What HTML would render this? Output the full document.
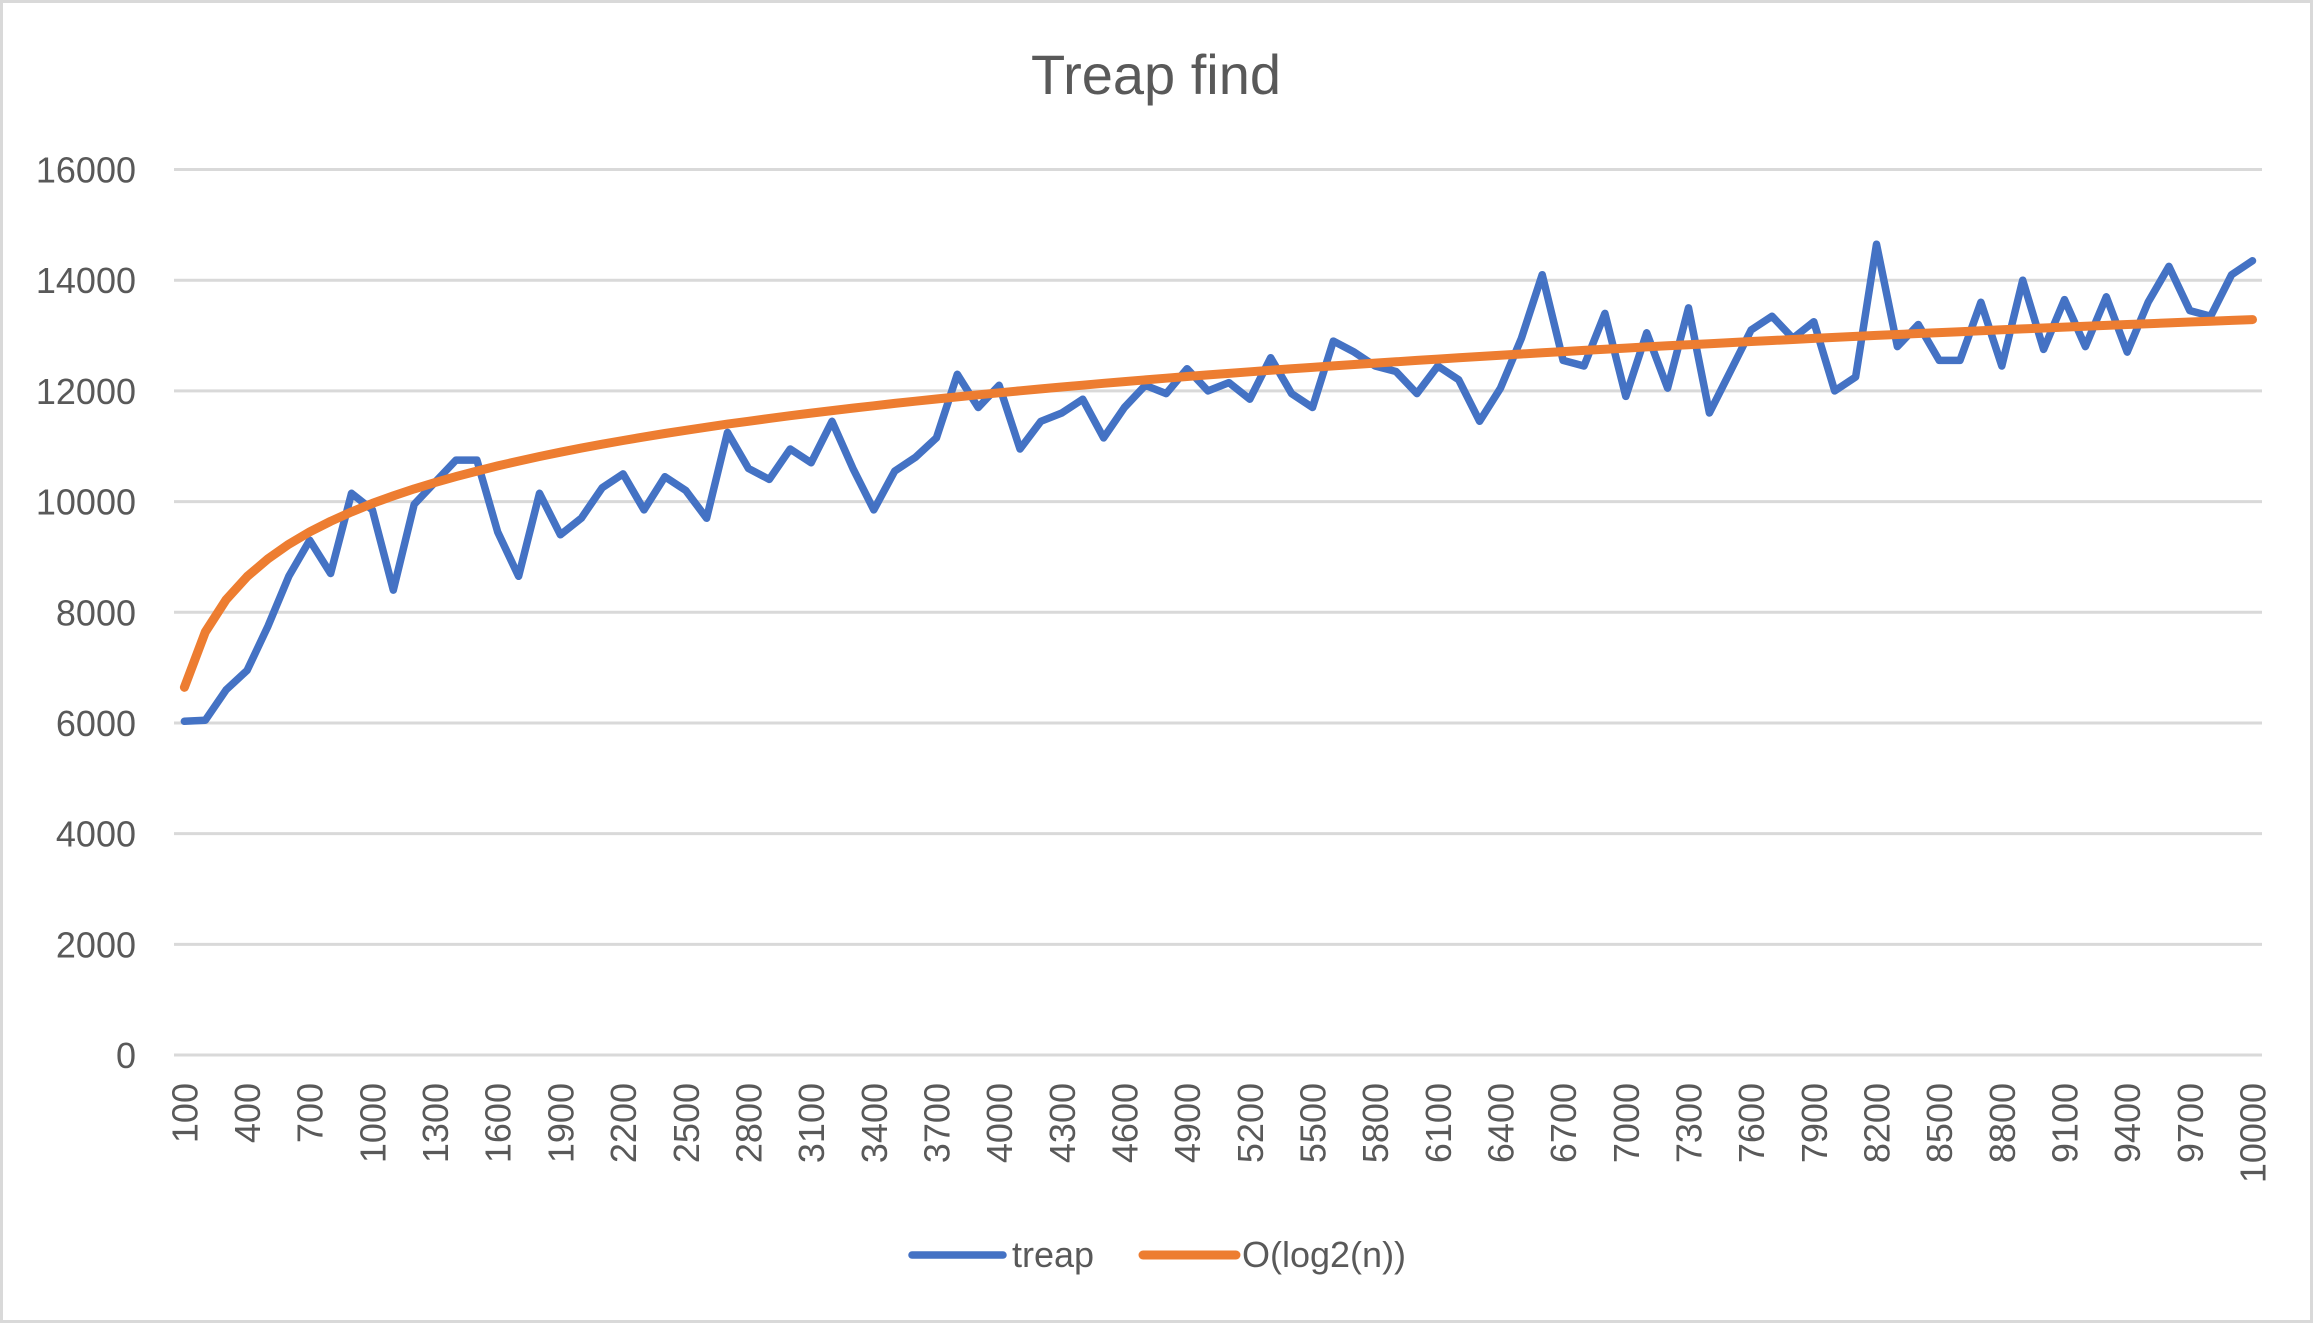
<!DOCTYPE html>
<html><head><meta charset="utf-8"><style>
html,body{margin:0;padding:0;background:#fff;}
svg{display:block;font-family:"Liberation Sans",sans-serif;}
</style></head><body>
<svg id="chart" width="2313" height="1323" viewBox="0 0 2313 1323">
<rect x="1.5" y="1.5" width="2310" height="1320" fill="#fff" stroke="#d9d9d9" stroke-width="3"/>
<text x="1156" y="94" text-anchor="middle" font-size="56" fill="#595959">Treap find</text>
<g id="grid"></g><g id="yticks"></g><g id="xticks"></g><g id="series"></g>
<g>
<line x1="912" y1="1255" x2="1003" y2="1255" stroke="#4472c4" stroke-width="7.5" stroke-linecap="round"/>
<text x="1012" y="1267" font-size="36" fill="#595959">treap</text>
<line x1="1143" y1="1255" x2="1236" y2="1255" stroke="#ed7d31" stroke-width="9" stroke-linecap="round"/>
<text x="1242" y="1267" font-size="36" fill="#595959">O(log2(n))</text>
</g>
</svg>
<script>
const categories = [];
for (let i = 1; i <= 100; i++) categories.push(i * 100);
const treap = [6030,6050,6600,6950,7750,8650,9300,8700,10150,9850,8400,9950,10350,10750,10750,9450,8650,10150,9400,9700,10250,10500,9850,10450,10200,9700,11250,10600,10400,10950,10700,11450,10600,9850,10550,10800,11150,12300,11700,12100,10950,11450,11600,11850,11150,11700,12100,11950,12400,12000,12150,11850,12600,11950,11700,12900,12700,12450,12350,11950,12450,12200,11450,12050,12950,14100,12550,12450,13400,11900,13050,12050,13500,11600,12350,13100,13350,12950,13250,12000,12250,14650,12800,13200,12550,12550,13600,12450,14000,12750,13650,12800,13700,12700,13600,14250,13450,13350,14100,14350];
const logn = [6644,7644,8229,8644,8966,9229,9451,9644,9814,9966,10103,10229,10344,10451,10551,10644,10731,10814,10892,10966,11036,11103,11168,11229,11288,11344,11399,11451,11502,11551,11598,11644,11688,11731,11773,11814,11853,11892,11929,11966,12002,12036,12070,12103,12136,12168,12199,12229,12259,12288,12316,12344,12372,12399,12425,12451,12477,12502,12526,12551,12575,12598,12621,12644,12666,12688,12710,12731,12752,12773,12794,12814,12834,12853,12873,12892,12911,12929,12948,12966,12984,13002,13019,13036,13053,13070,13087,13103,13120,13136,13152,13168,13183,13199,13214,13229,13244,13259,13273,13288];
const yTicks = [0,2000,4000,6000,8000,10000,12000,14000,16000];

const NS = "http://www.w3.org/2000/svg";
const X0 = 184.4, X1 = 2252.5, Y0 = 1055, Y1 = 169.5, GL = 174, GR = 2262;
const xs = i => X0 + (X1 - X0) * i / (categories.length - 1);
const ys = v => Y0 - (Y0 - Y1) * v / 16000;
function mk(tag, attrs, parent) { const e = document.createElementNS(NS, tag); for (const k in attrs) e.setAttribute(k, attrs[k]); parent.appendChild(e); return e; }

const grid = document.getElementById('grid'), yt = document.getElementById('yticks'), xt = document.getElementById('xticks'), sg = document.getElementById('series');
yTicks.forEach(v => {
  const l = mk('line', {x1: GL, x2: GR, y1: ys(v), y2: ys(v), stroke: '#d9d9d9', 'stroke-width': 3}, grid);
  
  
  const t = mk('text', {x: 136, y: ys(v) + 13, 'text-anchor': 'end', 'font-size': 36, fill: '#595959'}, yt);
  t.textContent = v;
  
  
});
categories.forEach((c, i) => {
  if (i % 3 !== 0 && i !== categories.length - 1) return;
  const x = xs(i) + 13, y = 1083;
  const t = mk('text', {x: x, y: y, 'text-anchor': 'end', 'font-size': 36, fill: '#595959', transform: 'rotate(-90 ' + x + ' ' + y + ')'}, xt);
  t.textContent = c;
  
  
});
function line(vals, color, w, name) {
  const p = mk('polyline', {points: vals.map((v, i) => xs(i).toFixed(1) + ',' + ys(v).toFixed(1)).join(' '), fill: 'none', stroke: color, 'stroke-width': w, 'stroke-linejoin': 'round', 'stroke-linecap': 'round'}, sg);
  
  
}
line(treap, '#4472c4', 7.5, 'treap-line');
line(logn, '#ed7d31', 9, 'log2n-line');
</script>
</body></html>
